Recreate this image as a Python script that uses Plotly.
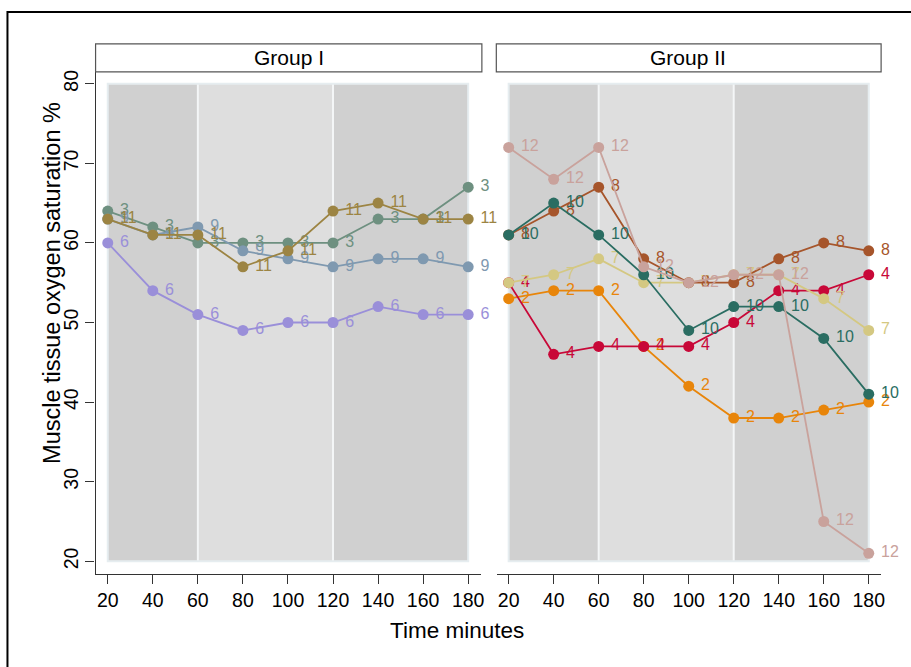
import plotly.graph_objects as go

W, H = 911, 667
times = [20, 40, 60, 80, 100, 120, 140, 160, 180]

# Group I series
g1_ids = ["3", "6", "9", "11"]
g1_vals = {
    "3": [64, 62, 60, 60, 60, 60, 63, 63, 67],
    "6": [60, 54, 51, 49, 50, 50, 52, 51, 51],
    "9": [63, 61, 62, 59, 58, 57, 58, 58, 57],
    "11": [63, 61, 61, 57, 59, 64, 65, 63, 63],
}
# Group II series
g2_ids = ["2", "4", "7", "8", "10", "12"]
g2_vals = {
    "2": [53, 54, 54, 47, 42, 38, 38, 39, 40],
    "4": [55, 46, 47, 47, 47, 50, 54, 54, 56],
    "7": [55, 56, 58, 55, 55, 56, 56, 53, 49],
    "8": [61, 64, 67, 58, 55, 55, 58, 60, 59],
    "10": [61, 65, 61, 56, 49, 52, 52, 48, 41],
    "12": [72, 68, 72, 57, 55, 56, 56, 25, 21],
}
colors = {
    "3": "#6e9080", "6": "#9a8fd9", "9": "#7f99b0", "11": "#9c8443",
    "2": "#e8850a", "4": "#c80838", "7": "#d4c882", "8": "#a6552b",
    "10": "#2a6d62", "12": "#c9a29c",
}
y_ticks = [20, 30, 40, 50, 60, 70, 80]
x_ticks = [20, 40, 60, 80, 100, 120, 140, 160, 180]
phases = [(20, 60, "#d0d0d0"), (60, 120, "#dedede"), (120, 180, "#d0d0d0")]

FONT = "Liberation Sans, Arial, Helvetica, sans-serif"

def px(x):
    return x / W

def py(y):
    return 1 - y / H

fig = go.Figure()

def add_series(ids, vals, xa, ya):
    for sid in ids:
        fig.add_trace(go.Scatter(
            x=times, y=vals[sid], mode="lines+markers+text",
            text=[" " + sid] * len(times), textposition="middle right",
            textfont=dict(color=colors[sid], size=16, family=FONT),
            line=dict(color=colors[sid], width=1.8),
            marker=dict(color=colors[sid], size=11),
            xaxis=xa, yaxis=ya, cliponaxis=False, showlegend=False,
        ))

add_series(g1_ids, g1_vals, "x", "y")
add_series(g2_ids, g2_vals, "x2", "y2")

shapes = []
for xr, yr in [("x", "y"), ("x2", "y2")]:
    for x0, x1, c in phases:
        shapes.append(dict(type="rect", xref=xr, yref=yr, x0=x0, x1=x1, y0=20, y1=80,
                           fillcolor=c, line=dict(width=0), layer="below"))
    for xv in [60, 120]:
        shapes.append(dict(type="line", xref=xr, yref=yr, x0=xv, x1=xv, y0=20, y1=80,
                           line=dict(color="#f4f6f7", width=2), layer="below"))
    shapes.append(dict(type="rect", xref=xr, yref=yr, x0=20, x1=180, y0=20, y1=80,
                       line=dict(color="#e6edf0", width=2), layer="below"))

# strips
strip_top, strip_bot = 42, 70
for (l, r) in [(96, 484), (498.5, 885)]:
    shapes.append(dict(type="rect", xref="paper", yref="paper",
                       x0=px(l), x1=px(r), y0=py(strip_bot), y1=py(strip_top),
                       fillcolor="white", line=dict(color="#555555", width=1.2)))
# outer border
shapes.append(dict(type="rect", xref="paper", yref="paper",
                   x0=px(7.5), x1=1.2, y0=-0.2, y1=py(10),
                   line=dict(color="black", width=2)))

def ann(text, x, y, size, angle=0):
    return dict(text=text, x=px(x), y=py(y), xref="paper", yref="paper",
                xanchor="center", yanchor="middle", textangle=angle,
                showarrow=False, font=dict(size=size, family=FONT, color="black"))

annotations = [
    ann("Group I", 290, 56, 21),
    ann("Group II", 691.5, 56, 21),
    ann("Time minutes", 459, 630, 22.5),
    ann("Muscle tissue oxygen saturation %", 52, 282, 23.5, -90),
]

xcommon = dict(range=[14.6, 185.5], tickvals=x_ticks, ticks="outside", ticklen=9,
               tickwidth=1.2, tickcolor="#333333", showline=True, linecolor="#333333",
               linewidth=1.2, showgrid=False, zeroline=False,
               tickfont=dict(size=19.5, family=FONT, color="black"))
ydom = [py(573.5), py(70)]
fig.update_layout(
    width=W, height=H, margin=dict(l=0, r=0, t=0, b=0),
    paper_bgcolor="white", plot_bgcolor="white",
    xaxis=dict(domain=[px(96), px(482.7)], anchor="y", **xcommon),
    xaxis2=dict(domain=[px(498.7), px(885)], anchor="y2", **xcommon),
    yaxis=dict(domain=ydom, range=[18.43, 81.5], tickvals=y_ticks, ticks="outside",
               ticklen=9, tickwidth=1.2, tickcolor="#333333", showline=True,
               linecolor="#333333", linewidth=1.2, showgrid=False, zeroline=False,
               tickangle=-90, anchor="x",
               tickfont=dict(size=19.5, family=FONT, color="black")),
    yaxis2=dict(domain=ydom, range=[18.43, 81.5], anchor="x2", showline=False,
                showticklabels=False, ticks="", showgrid=False, zeroline=False),
    shapes=shapes, annotations=annotations,
)

fig.write_html("out.html")
